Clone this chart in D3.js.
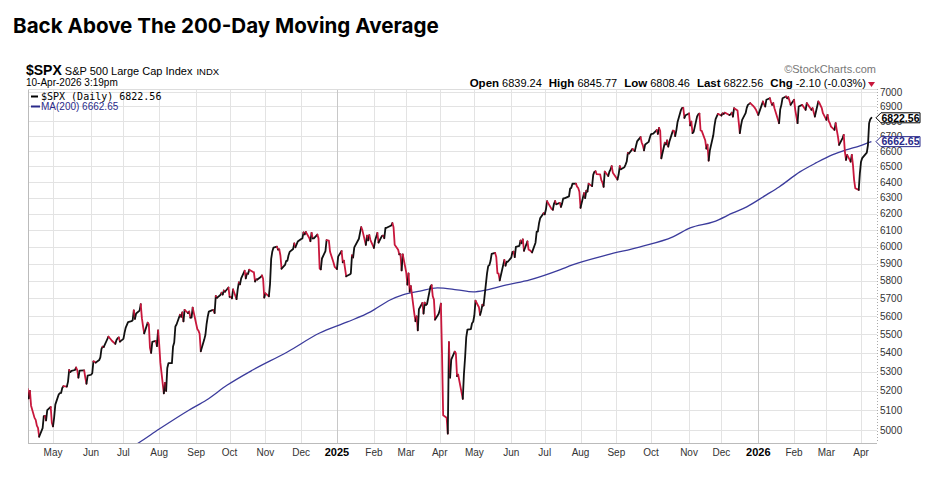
<!DOCTYPE html>
<html lang="en">
<head>
<meta charset="utf-8">
<title>$SPX with MA(200)</title>
<script src="https://d3js.org/d3.v7.min.js"></script>
<style>
  body { margin: 0; background: #fff; }
  svg { display: block; }
  .ax { font-family: "Liberation Sans", Arial, sans-serif; font-size: 10px; fill: #333; }
</style>
</head>
<body>
<div id="chart"></div>
<script>
// S&P 500 daily closes (month-day, close)
const spx2024 = [
  ["04-09",5209],["04-10",5160],["04-11",5199],["04-12",5123],["04-15",5061],["04-16",5051],["04-17",5022],["04-18",5011],["04-19",4967],
  ["04-22",5010],["04-23",5070],["04-24",5071],["04-25",5048],["04-26",5100],["04-29",5116],["04-30",5036],["05-01",5018],["05-02",5064],
  ["05-03",5128],["05-06",5181],["05-07",5187],["05-08",5188],["05-09",5214],["05-10",5223],["05-13",5221],["05-14",5247],["05-15",5308],
  ["05-16",5297],["05-17",5303],["05-20",5308],["05-21",5321],["05-22",5307],["05-23",5268],["05-24",5305],["05-28",5306],["05-29",5267],
  ["05-30",5236],["05-31",5278],["06-03",5283],["06-04",5291],["06-05",5354],["06-06",5352],["06-07",5347],["06-10",5361],["06-11",5375],
  ["06-12",5421],["06-13",5433],["06-14",5431],["06-17",5473],["06-18",5487],["06-20",5473],["06-21",5465],["06-24",5448],["06-25",5469],
  ["06-26",5478],["06-27",5483],["06-28",5460],["07-01",5475],["07-02",5509],["07-03",5537],["07-05",5567],["07-08",5572],["07-09",5577],
  ["07-10",5633],["07-11",5585],["07-12",5615],["07-15",5631],["07-16",5667],["07-17",5589],["07-18",5544],["07-19",5505],["07-22",5564],
  ["07-23",5555],["07-24",5427],["07-25",5399],["07-26",5459],["07-29",5464],["07-30",5436],["07-31",5522],["08-01",5446],["08-02",5347],
  ["08-05",5186],["08-06",5240],["08-07",5199],["08-08",5319],["08-09",5344],["08-12",5344],["08-13",5434],["08-14",5455],["08-15",5543],
  ["08-16",5554],["08-19",5608],["08-20",5597],["08-21",5621],["08-22",5571],["08-23",5635],["08-26",5617],["08-27",5626],["08-28",5592],
  ["08-29",5592],["08-30",5648],["09-03",5529],["09-04",5520],["09-05",5503],["09-06",5408],["09-09",5471],["09-10",5496],["09-11",5554],
  ["09-12",5596],["09-13",5626],["09-16",5634],["09-17",5634],["09-18",5618],["09-19",5714],["09-20",5703],["09-23",5719],["09-24",5732],
  ["09-25",5722],["09-26",5745],["09-27",5738],["09-30",5762],["10-01",5709],["10-02",5709],["10-03",5700],["10-04",5751],["10-07",5696],
  ["10-08",5751],["10-09",5792],["10-10",5780],["10-11",5815],["10-14",5859],["10-15",5815],["10-16",5843],["10-17",5841],["10-18",5865],
  ["10-21",5853],["10-22",5851],["10-23",5797],["10-24",5809],["10-25",5808],["10-28",5823],["10-29",5832],["10-30",5813],["10-31",5705],
  ["11-01",5729],["11-04",5712],["11-05",5782],["11-06",5929],["11-07",5973],["11-08",5996],["11-11",6001],["11-12",5984],["11-13",5985],
  ["11-14",5949],["11-15",5871],["11-18",5893],["11-19",5917],["11-20",5917],["11-21",5949],["11-22",5970],["11-25",5987],["11-26",6021],
  ["11-27",5998],["11-29",6032],["12-02",6047],["12-03",6050],["12-04",6087],["12-05",6075],["12-06",6090],["12-09",6053],["12-10",6034],
  ["12-11",6084],["12-12",6051],["12-13",6051],["12-16",6074],["12-17",6051],["12-18",5872],["12-19",5867],["12-20",5931],["12-23",5975],
  ["12-24",6040],["12-26",6038],["12-27",5971],["12-30",5907],["12-31",5882]
];
const spx2025 = [
  ["01-02",5869],["01-03",5942],["01-06",5975],["01-07",5909],["01-08",5918],["01-10",5827],["01-13",5837],["01-14",5843],["01-15",5950],
  ["01-16",5937],["01-17",5997],["01-21",6049],["01-22",6086],["01-23",6119],["01-24",6101],["01-27",6012],["01-28",6068],["01-29",6039],
  ["01-30",6071],["01-31",6041],["02-03",5994],["02-04",6038],["02-05",6061],["02-06",6084],["02-07",6026],["02-10",6066],["02-11",6068],
  ["02-12",6052],["02-13",6115],["02-14",6115],["02-18",6129],["02-19",6144],["02-20",6118],["02-21",6013],["02-24",5983],["02-25",5955],
  ["02-26",5956],["02-27",5861],["02-28",5955],["03-03",5850],["03-04",5779],["03-05",5843],["03-06",5739],["03-07",5770],["03-10",5615],
  ["03-11",5572],["03-12",5599],["03-13",5522],["03-14",5639],["03-17",5675],["03-18",5615],["03-19",5676],["03-20",5663],["03-21",5668],
  ["03-24",5768],["03-25",5776],["03-26",5712],["03-27",5693],["03-28",5581],["03-31",5612],["04-01",5633],["04-02",5671],["04-03",5397],
  ["04-04",5074],["04-07",5062],["04-08",4983],["04-09",5457],["04-10",5268],["04-11",5363],["04-14",5406],["04-15",5397],["04-16",5276],
  ["04-17",5283],["04-21",5158],["04-22",5288],["04-23",5376],["04-24",5485],["04-25",5525],["04-28",5529],["04-29",5561],["04-30",5569],
  ["05-01",5604],["05-02",5687],["05-05",5650],["05-06",5607],["05-07",5631],["05-08",5664],["05-09",5660],["05-12",5844],["05-13",5886],
  ["05-14",5892],["05-15",5916],["05-16",5958],["05-19",5964],["05-20",5940],["05-21",5845],["05-22",5842],["05-23",5803],["05-27",5922],
  ["05-28",5889],["05-29",5912],["05-30",5912],["06-02",5936],["06-03",5970],["06-04",5971],["06-05",5939],["06-06",6000],["06-09",6006],
  ["06-10",6038],["06-11",6022],["06-12",6045],["06-13",5977],["06-16",6033],["06-17",5983],["06-18",5981],["06-20",5967],["06-23",6025],
  ["06-24",6092],["06-25",6092],["06-26",6141],["06-27",6173],["06-30",6205],["07-01",6198],["07-02",6227],["07-03",6279],["07-07",6230],
  ["07-08",6226],["07-09",6263],["07-10",6280],["07-11",6260],["07-14",6269],["07-15",6244],["07-16",6264],["07-17",6297],["07-18",6297],
  ["07-21",6306],["07-22",6309],["07-23",6359],["07-24",6363],["07-25",6389],["07-28",6390],["07-29",6371],["07-30",6362],["07-31",6339],
  ["08-01",6238],["08-04",6330],["08-05",6299],["08-06",6345],["08-07",6340],["08-08",6389],["08-11",6374],["08-12",6446],["08-13",6466],
  ["08-14",6469],["08-15",6450],["08-18",6449],["08-19",6412],["08-20",6396],["08-21",6370],["08-22",6467],["08-25",6439],["08-26",6466],
  ["08-27",6481],["08-28",6502],["08-29",6460],["09-02",6416],["09-03",6448],["09-04",6502],["09-05",6482],["09-08",6495],["09-09",6512],
  ["09-10",6532],["09-11",6588],["09-12",6584],["09-15",6615],["09-16",6607],["09-17",6600],["09-18",6632],["09-19",6664],["09-22",6693],
  ["09-23",6657],["09-24",6638],["09-25",6605],["09-26",6644],["09-29",6661],["09-30",6688],["10-01",6711],["10-02",6715],["10-03",6716],
  ["10-06",6740],["10-07",6714],["10-08",6754],["10-09",6735],["10-10",6553],["10-13",6655],["10-14",6644],["10-15",6671],["10-16",6630],
  ["10-17",6664],["10-20",6736],["10-21",6735],["10-22",6699],["10-23",6738],["10-24",6792],["10-27",6875],["10-28",6891],["10-29",6891],
  ["10-30",6822],["10-31",6840],["11-03",6852],["11-04",6771],["11-05",6796],["11-06",6720],["11-07",6728],["11-10",6832],["11-11",6846],
  ["11-12",6851],["11-13",6737],["11-14",6734],["11-17",6672],["11-18",6617],["11-19",6642],["11-20",6538],["11-21",6603],["11-24",6705],
  ["11-25",6766],["11-26",6813],["11-28",6849],["12-01",6838],["12-02",6853],["12-03",6849],["12-04",6857],["12-05",6854],["12-08",6842],
  ["12-09",6845],["12-10",6858],["12-11",6831],["12-12",6888],["12-15",6872],["12-16",6797],["12-17",6719],["12-18",6770],["12-19",6809],
  ["12-22",6854],["12-23",6890],["12-24",6911],["12-26",6923],["12-29",6900],["12-30",6890],["12-31",6877]
];
const spx2026 = [
  ["01-02",6842],["01-05",6911],["01-06",6934],["01-07",6915],["01-08",6900],["01-09",6946],["01-12",6957],["01-13",6930],["01-14",6911],
  ["01-15",6923],["01-16",6888],["01-20",6786],["01-21",6880],["01-22",6911],["01-23",6957],["01-26",6969],["01-27",6957],["01-28",6964],
  ["01-29",6940],["01-30",6911],["02-02",6946],["02-03",6877],["02-04",6830],["02-05",6786],["02-06",6900],["02-09",6911],["02-10",6900],
  ["02-11",6888],["02-12",6877],["02-13",6923],["02-17",6877],["02-18",6888],["02-19",6860],["02-20",6831],["02-23",6934],["02-24",6923],
  ["02-25",6905],["02-26",6888],["02-27",6854],["03-02",6809],["03-03",6842],["03-04",6800],["03-05",6786],["03-06",6763],["03-09",6741],
  ["03-10",6786],["03-11",6740],["03-12",6696],["03-13",6641],["03-16",6686],["03-17",6708],["03-18",6597],["03-19",6543],["03-20",6575],
  ["03-23",6531],["03-24",6575],["03-25",6510],["03-26",6414],["03-27",6361],["03-30",6350],["03-31",6457],["04-01",6531],["04-02",6554],
  ["04-06",6590],["04-07",6640],["04-08",6786],["04-09",6813],["04-10",6822.56]
];

// 200-day moving average
const ma200 = [
  ["2024-07-08",4915],["2024-07-14",4936],["2024-08-01",5005],["2024-08-27",5101],["2024-09-11",5152],["2024-09-29",5229],
  ["2024-10-21",5308],["2024-11-20",5404],["2024-12-18",5507],["2025-01-11",5568],["2025-01-31",5624],["2025-02-17",5691],
  ["2025-02-28",5720],["2025-03-15",5742],["2025-03-30",5760],["2025-04-16",5749],["2025-04-30",5737],["2025-05-12",5749],
  ["2025-05-29",5777],["2025-06-18",5806],["2025-07-14",5864],["2025-07-25",5893],["2025-08-24",5952],["2025-09-21",5999],
  ["2025-10-20",6060],["2025-11-04",6114],["2025-11-24",6151],["2025-12-11",6206],["2025-12-23",6244],["2026-01-09",6319],
  ["2026-01-20",6369],["2026-02-07",6465],["2026-02-21",6523],["2026-03-07",6575],["2026-03-19",6608],["2026-03-31",6635],
  ["2026-04-10",6662.65]
];

const yTicks = d3.range(5000, 7001, 100);
const monthNames = ["Jan","Feb","Mar","Apr","May","Jun","Jul","Aug","Sep","Oct","Nov","Dec"];
const quote = [["Open","6839.24"],["High","6845.77"],["Low","6808.46"],["Last","6822.56"],["Chg","-2.10 (-0.03%)"]];
const lastClose = 6822.56, lastMA = 6662.65;

const width = 936, height = 484;
const plot = { left: 28, right: 877, top: 89, bottom: 443 };
const parse = d3.timeParse("%Y-%m-%d");

const spx = [].concat(
  spx2024.map(d => ({ date: parse("2024-" + d[0]), v: d[1] })),
  spx2025.map(d => ({ date: parse("2025-" + d[0]), v: d[1] })),
  spx2026.map(d => ({ date: parse("2026-" + d[0]), v: d[1] }))
);
const ma = ma200.map(d => ({ date: parse(d[0]), v: d[1] }));

const x = d3.scaleTime()
  .domain([new Date(2024, 3, 9, 8), new Date(2026, 3, 14, 20)])
  .range([plot.left, plot.right]);
const y = d3.scaleLog()
  .domain([4936, 7021])
  .range([plot.bottom, plot.top]);

const svg = d3.select("#chart").append("svg")
  .attr("width", width).attr("height", height);

// title
svg.append("text")
  .attr("x", 13).attr("y", 33)
  .style("font-family", "Inter, 'Open Sans', sans-serif")
  .style("font-weight", 700).style("font-size", "20.6px")
  .text("Back Above The 200-Day Moving Average");

// first trading weekday of every month in range
let monthTicks = [];
d3.timeMonth.range(new Date(2024, 4, 1), new Date(2026, 4, 1)).forEach(m => {
  let d = new Date(m);
  while (d.getDay() === 0 || d.getDay() === 6 || (d.getMonth() === 0 && d.getDate() === 1)) d.setDate(d.getDate() + 1);
  monthTicks.push(d);
});

// grid
const grid = svg.append("g");
grid.selectAll("line.h").data(yTicks).enter().append("line")
  .attr("x1", plot.left).attr("x2", plot.right)
  .attr("y1", d => Math.round(y(d)) + 0.5).attr("y2", d => Math.round(y(d)) + 0.5)
  .attr("stroke", "#e3e3e3");
grid.selectAll("line.v").data(monthTicks).enter().append("line")
  .attr("y1", plot.top).attr("y2", plot.bottom)
  .attr("x1", d => Math.round(x(d)) + 0.5).attr("x2", d => Math.round(x(d)) + 0.5)
  .attr("stroke", d => d.getMonth() === 0 ? "#c8c8c8" : "#e3e3e3");

// frame
svg.append("line").attr("x1", plot.left + 0.5).attr("x2", plot.left + 0.5)
  .attr("y1", plot.top).attr("y2", plot.bottom).attr("stroke", "#bbb");
svg.append("line").attr("x1", plot.left).attr("x2", plot.right)
  .attr("y1", plot.bottom + 0.5).attr("y2", plot.bottom + 0.5).attr("stroke", "#bbb");
svg.append("line").attr("x1", plot.left).attr("x2", plot.right)
  .attr("y1", plot.top + 0.5).attr("y2", plot.top + 0.5).attr("stroke", "#ddd");
svg.append("line").attr("x1", plot.right + 0.5).attr("x2", plot.right + 0.5)
  .attr("y1", plot.top).attr("y2", plot.bottom)
  .attr("stroke", "#aaa").attr("stroke-dasharray", "1,2");

// y axis labels (right)
svg.append("g").selectAll("text").data(yTicks).enter().append("text")
  .attr("class", "ax")
  .attr("x", 880).attr("y", d => y(d) + 3.5)
  .text(d => d);

// x axis labels
svg.append("g").selectAll("text").data(monthTicks).enter().append("text")
  .attr("class", "ax")
  .attr("x", d => x(d)).attr("y", 456)
  .attr("text-anchor", "middle")
  .style("font-weight", d => d.getMonth() === 0 ? 700 : 400)
  .style("font-size", d => d.getMonth() === 0 ? "11px" : "10px")
  .style("fill", d => d.getMonth() === 0 ? "#000" : "#333")
  .text(d => d.getMonth() === 0 ? d.getFullYear() : monthNames[d.getMonth()]);

// clip
svg.append("clipPath").attr("id", "clip").append("rect")
  .attr("x", plot.left).attr("y", plot.top)
  .attr("width", plot.right - plot.left).attr("height", plot.bottom - plot.top);

const line = d3.line().x(d => x(d.date)).y(d => y(d.v));

// MA(200)
svg.append("path")
  .datum(ma)
  .attr("clip-path", "url(#clip)")
  .attr("d", line.curve(d3.curveMonotoneX))
  .attr("fill", "none").attr("stroke", "#3b3b9c").attr("stroke-width", 1.3);

// price line, black when rising, red when falling
let runs = [];
for (let i = 1; i < spx.length; i++) {
  const up = spx[i].v >= spx[i - 1].v;
  const last = runs[runs.length - 1];
  if (last && last.up === up) last.pts.push(spx[i]);
  else runs.push({ up: up, pts: [spx[i - 1], spx[i]] });
}
const priceLine = d3.line().x(d => x(d.date)).y(d => y(d.v));
svg.append("g").attr("clip-path", "url(#clip)")
  .selectAll("path").data(runs).enter().append("path")
  .attr("d", d => priceLine(d.pts))
  .attr("fill", "none")
  .attr("stroke", d => d.up ? "#111" : "#c8173c")
  .attr("stroke-width", 1.8)
  .attr("stroke-linejoin", "round").attr("stroke-linecap", "round");

// header texts
const hdr = svg.append("text").attr("x", 26).attr("y", 75)
  .style("font-family", "'Liberation Sans', Arial, sans-serif");
hdr.append("tspan").style("font-weight", 700).style("font-size", "14px").text("$SPX");
hdr.append("tspan").attr("dx", 3).style("font-size", "11px").text("S&P 500 Large Cap Index");
hdr.append("tspan").attr("dx", 4).style("font-size", "9.5px").text("INDX");

svg.append("text").attr("x", 26).attr("y", 86)
  .style("font-family", "'Liberation Sans', Arial, sans-serif").style("font-size", "10px")
  .text("10-Apr-2026 3:19pm");

// legend
svg.append("line").attr("x1", 31).attr("x2", 38).attr("y1", 96.5).attr("y2", 96.5)
  .attr("stroke", "#000").attr("stroke-width", 2);
svg.append("text").attr("x", 41).attr("y", 100)
  .style("font-family", "'DejaVu Sans Mono', monospace").style("font-size", "10px")
  .text("$SPX (Daily) " + lastClose.toFixed(2));
svg.append("line").attr("x1", 31).attr("x2", 40).attr("y1", 106.5).attr("y2", 106.5)
  .attr("stroke", "#2a2a8a").attr("stroke-width", 2);
svg.append("text").attr("x", 41).attr("y", 110)
  .style("font-family", "'Liberation Sans', Arial, sans-serif").style("font-size", "10px")
  .style("fill", "#2a2a8a")
  .text("MA(200) " + lastMA.toFixed(2));

// copyright + quote line
svg.append("text").attr("x", 876).attr("y", 73).attr("text-anchor", "end")
  .style("font-family", "'Liberation Sans', Arial, sans-serif").style("font-size", "11px")
  .style("fill", "#777").text("\u00a9StockCharts.com");

const q = svg.append("text").attr("x", 866).attr("y", 87).attr("text-anchor", "end")
  .style("font-family", "'Liberation Sans', Arial, sans-serif");
quote.forEach((d, i) => {
  q.append("tspan").attr("dx", i === 0 ? 0 : 7).style("font-weight", 700).style("font-size", "11.5px").text(d[0]);
  q.append("tspan").attr("dx", 3).style("font-size", "11px").text(d[1]);
});
svg.append("path").attr("d", "M868,82 L875,82 L871.5,87 Z").attr("fill", "#c8173c");

// price tags on the right
function tag(v, color) {
  const cy = y(v);
  const g = svg.append("g");
  g.append("path")
    .attr("d", `M876,${cy} L881,${cy - 5} L920,${cy - 5} L920,${cy + 5} L881,${cy + 5} Z`)
    .attr("fill", "#fff").attr("stroke", color).attr("stroke-width", 1);
  g.append("text").attr("x", 900.5).attr("y", cy + 3.8).attr("text-anchor", "middle")
    .style("font-family", "'Liberation Sans', Arial, sans-serif")
    .style("font-size", "10.5px").style("font-weight", 700).style("fill", color)
    .text(v.toFixed(2));
}
tag(lastClose, "#000");
tag(lastMA, "#2a2a8a");
</script>
</body>
</html>
